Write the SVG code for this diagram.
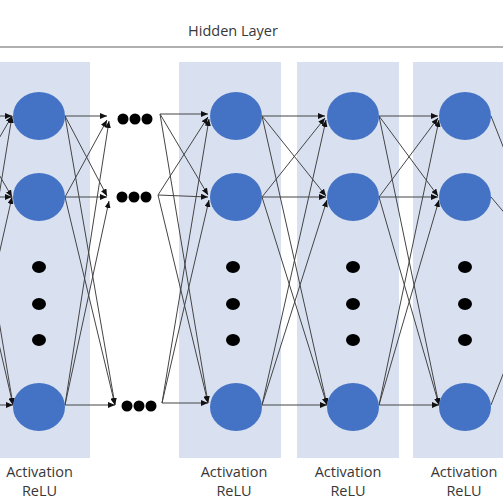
<svg xmlns="http://www.w3.org/2000/svg" width="503" height="503" viewBox="0 0 503 503">
<defs>
<marker id="ah" markerUnits="userSpaceOnUse" markerWidth="7" markerHeight="6" refX="7" refY="3" orient="auto">
<path d="M0,0 L7,3 L0,6 Z" fill="#111"/>
</marker>
<style>
.panel{fill:#d9e1f1}
.node{fill:#4472c4}
.dot{fill:#000}
.lbl{font-family:"Open Sans","Liberation Sans",sans-serif;font-size:14.5px;fill:#383838;text-anchor:middle}
.c line{stroke:#444;stroke-width:1}
.c .a{marker-end:url(#ah)}
</style>
</defs>
<rect width="503" height="503" fill="#fff"/>
<text class="lbl" x="233" y="36">Hidden Layer</text>
<line x1="0" y1="47" x2="503" y2="47" stroke="#b0b0b0" stroke-width="2"/>
<rect class="panel" x="0" y="62" width="90" height="396"/>
<rect class="panel" x="179" y="62" width="102" height="396"/>
<rect class="panel" x="297" y="62" width="102" height="396"/>
<rect class="panel" x="413" y="62" width="90" height="396"/>
<g class="c" id="connectors">
<line class="a" x1="-35" y1="116" x2="12" y2="116"/>
<line class="a" x1="-35" y1="197" x2="12" y2="116"/>
<line class="a" x1="-35" y1="405" x2="12" y2="116"/>
<line class="a" x1="-35" y1="116" x2="12" y2="197"/>
<line class="a" x1="-35" y1="197" x2="12" y2="197"/>
<line class="a" x1="-35" y1="405" x2="12" y2="197"/>
<line class="a" x1="-35" y1="116" x2="13" y2="405"/>
<line class="a" x1="-35" y1="197" x2="13" y2="405"/>
<line class="a" x1="-35" y1="405" x2="13" y2="405"/>
<line class="a" x1="65" y1="116" x2="107" y2="116"/>
<line class="a" x1="65" y1="197" x2="107" y2="120"/>
<line class="a" x1="65" y1="405" x2="109" y2="121"/>
<line class="a" x1="65" y1="116" x2="107" y2="196"/>
<line class="a" x1="65" y1="197" x2="107" y2="197"/>
<line class="a" x1="65" y1="405" x2="109" y2="201"/>
<line class="a" x1="65" y1="116" x2="115" y2="405"/>
<line class="a" x1="65" y1="197" x2="115" y2="405"/>
<line class="a" x1="65" y1="405" x2="115" y2="405"/>
<line class="a" x1="160" y1="114" x2="208" y2="114"/>
<line class="a" x1="158" y1="195" x2="208" y2="117"/>
<line class="a" x1="162" y1="403" x2="209" y2="119"/>
<line class="a" x1="160" y1="114" x2="208" y2="195"/>
<line class="a" x1="158" y1="195" x2="208" y2="197"/>
<line class="a" x1="162" y1="403" x2="209" y2="200"/>
<line class="a" x1="160" y1="114" x2="208" y2="403"/>
<line class="a" x1="158" y1="195" x2="208" y2="403"/>
<line class="a" x1="162" y1="403" x2="208" y2="403"/>
<line class="a" x1="262" y1="116" x2="325" y2="116"/>
<line class="a" x1="262" y1="197" x2="325" y2="118"/>
<line class="a" x1="262" y1="405" x2="326" y2="120"/>
<line class="a" x1="262" y1="116" x2="326" y2="196"/>
<line class="a" x1="262" y1="197" x2="326" y2="197"/>
<line class="a" x1="262" y1="405" x2="327" y2="200"/>
<line class="a" x1="262" y1="116" x2="327" y2="405"/>
<line class="a" x1="262" y1="197" x2="327" y2="405"/>
<line class="a" x1="262" y1="405" x2="327" y2="405"/>
<line class="a" x1="379" y1="116" x2="438" y2="116"/>
<line class="a" x1="379" y1="197" x2="438" y2="118"/>
<line class="a" x1="379" y1="405" x2="439" y2="120"/>
<line class="a" x1="379" y1="116" x2="438" y2="196"/>
<line class="a" x1="379" y1="197" x2="438" y2="197"/>
<line class="a" x1="379" y1="405" x2="439" y2="200"/>
<line class="a" x1="379" y1="116" x2="439" y2="405"/>
<line class="a" x1="379" y1="197" x2="439" y2="405"/>
<line class="a" x1="379" y1="405" x2="439" y2="405"/>
<line x1="491" y1="116" x2="540" y2="240"/>
<line x1="491" y1="197" x2="540" y2="255"/>
<line x1="491" y1="405" x2="540" y2="280"/>
</g>
<g id="col1">
<ellipse class="node" cx="39" cy="116" rx="26" ry="24"/>
<ellipse class="node" cx="39" cy="197" rx="26" ry="24"/>
<ellipse class="dot" cx="39" cy="267" rx="7" ry="6"/>
<ellipse class="dot" cx="39" cy="304" rx="7" ry="6"/>
<ellipse class="dot" cx="39" cy="340" rx="7" ry="6"/>
<ellipse class="node" cx="39" cy="407" rx="26" ry="24"/>
<text class="lbl" x="39.5" y="477">Activation</text>
<text class="lbl" x="39.5" y="496">ReLU</text>
</g>
<g id="ellipsis">
<circle class="dot" cx="123" cy="119" r="5.5"/>
<circle class="dot" cx="135" cy="119" r="5.5"/>
<circle class="dot" cx="147" cy="119" r="5.5"/>
<circle class="dot" cx="122" cy="197" r="5.5"/>
<circle class="dot" cx="134" cy="197" r="5.5"/>
<circle class="dot" cx="146" cy="197" r="5.5"/>
<circle class="dot" cx="127" cy="406" r="5.5"/>
<circle class="dot" cx="139" cy="406" r="5.5"/>
<circle class="dot" cx="151" cy="406" r="5.5"/>
</g>
<g id="col2">
<ellipse class="node" cx="236" cy="116" rx="26" ry="24"/>
<ellipse class="node" cx="236" cy="197" rx="26" ry="24"/>
<ellipse class="dot" cx="233" cy="267" rx="7" ry="6"/>
<ellipse class="dot" cx="233" cy="304" rx="7" ry="6"/>
<ellipse class="dot" cx="233" cy="340" rx="7" ry="6"/>
<ellipse class="node" cx="236" cy="407" rx="26" ry="24"/>
<text class="lbl" x="234" y="477">Activation</text>
<text class="lbl" x="234" y="496">ReLU</text>
</g>
<g id="col3">
<ellipse class="node" cx="353" cy="116" rx="26" ry="24"/>
<ellipse class="node" cx="353" cy="197" rx="26" ry="24"/>
<ellipse class="dot" cx="353" cy="267" rx="7" ry="6"/>
<ellipse class="dot" cx="353" cy="304" rx="7" ry="6"/>
<ellipse class="dot" cx="353" cy="340" rx="7" ry="6"/>
<ellipse class="node" cx="353" cy="407" rx="26" ry="24"/>
<text class="lbl" x="348" y="477">Activation</text>
<text class="lbl" x="348" y="496">ReLU</text>
</g>
<g id="col4">
<ellipse class="node" cx="465" cy="116" rx="26" ry="24"/>
<ellipse class="node" cx="465" cy="197" rx="26" ry="24"/>
<ellipse class="dot" cx="465" cy="267" rx="7" ry="6"/>
<ellipse class="dot" cx="465" cy="304" rx="7" ry="6"/>
<ellipse class="dot" cx="465" cy="340" rx="7" ry="6"/>
<ellipse class="node" cx="465" cy="407" rx="26" ry="24"/>
<text class="lbl" x="464" y="477">Activation</text>
<text class="lbl" x="464" y="496">ReLU</text>
</g>
</svg>
